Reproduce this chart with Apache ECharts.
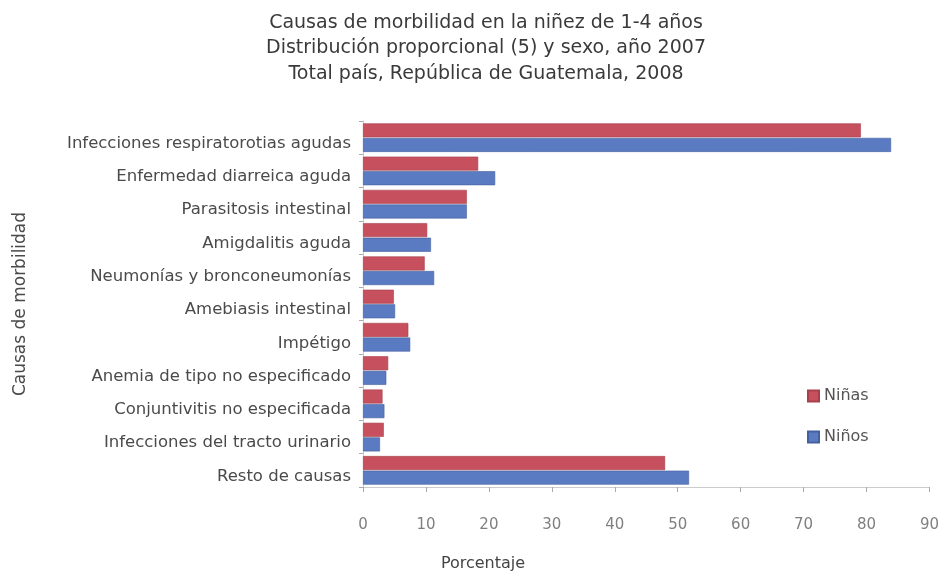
<!DOCTYPE html>
<html>
<head>
<meta charset="utf-8">
<script src="https://cdn.jsdelivr.net/npm/echarts@6/dist/echarts.min.js"></script>
<style>html,body{margin:0;padding:0;background:#fff}#c{width:942px;height:571px}</style>
</head>
<body>
<div id="c"></div>
<script>
const categories = [
  "Infecciones respiratorotias agudas",
  "Enfermedad diarreica aguda",
  "Parasitosis intestinal",
  "Amigdalitis aguda",
  "Neumonías y bronconeumonías",
  "Amebiasis intestinal",
  "Impétigo",
  "Anemia de tipo no especificado",
  "Conjuntivitis no especificada",
  "Infecciones del tracto urinario",
  "Resto de causas"
];
const ninas = [79.1, 18.3, 16.5, 10.2, 9.8, 4.9, 7.2, 4.0, 3.1, 3.3, 48.0];
const ninos = [83.9, 21.0, 16.5, 10.8, 11.3, 5.1, 7.5, 3.7, 3.4, 2.7, 51.8];
const xTicks = [0, 10, 20, 30, 40, 50, 60, 70, 80, 90];
const titleLines = [
  "Causas de morbilidad en la niñez de 1-4 años",
  "Distribución proporcional (5) y sexo, año 2007",
  "Total país, República de Guatemala, 2008"
];

const FONT = "DejaVu Sans, sans-serif";
const chart = echarts.init(document.getElementById('c'));
chart.setOption({
  animation: false,
  textStyle: { fontFamily: FONT },
  title: [
    {
      text: titleLines.join("\n"),
      left: 481, top: 5, textAlign: 'center',
      textStyle: { fontFamily: FONT, fontSize: 19, fontWeight: 'normal', color: '#3a3a3a', lineHeight: 25.5 }
    },
    {
      text: "Porcentaje",
      left: 478, top: 551, textAlign: 'center',
      textStyle: { fontFamily: FONT, fontSize: 16, fontWeight: 'normal', color: '#444' }
    }
  ],
  legend: {
    orient: 'vertical',
    left: 802, top: 383,
    itemWidth: 11, itemHeight: 11, itemGap: 25,
    icon: 'rect',
    textStyle: { fontFamily: FONT, fontSize: 16, color: '#555' },
    data: ['Niñas', 'Niños']
  },
  grid: { left: 363, right: 12, top: 121, bottom: 84, containLabel: false },
  xAxis: {
    type: 'value', min: 0, max: 90, interval: 10,
    axisLine: { show: true, lineStyle: { color: '#ccc' } },
    axisTick: { show: true, length: 5, lineStyle: { color: '#aaa' } },
    splitLine: { show: false },
    axisLabel: {
      margin: 31, fontFamily: FONT, fontSize: 15, color: '#808080',
      formatter: v => xTicks.includes(v) ? String(v) : ''
    }
  },
  yAxis: {
    type: 'category', inverse: true, data: categories,
    name: 'Causas de morbilidad', nameLocation: 'middle', nameRotate: 90, nameGap: 334,
    nameTextStyle: { fontFamily: FONT, fontSize: 17, color: '#4a4a4a' },
    axisLine: { show: true, lineStyle: { color: '#ccc' } },
    axisTick: { show: true, length: 4, lineStyle: { color: '#aaa' } },
    axisLabel: {
      margin: 12, fontFamily: FONT, fontSize: 16.5, color: '#4a4a4a',
      formatter: v => '{a|' + v + '}',
      rich: { a: { fontFamily: FONT, fontSize: 16.5, color: '#4a4a4a', padding: [12, 0, 0, 0] } }
    }
  },
  series: [
    {
      name: 'Niñas', type: 'bar', data: ninas,
      barGap: '4%', barCategoryGap: '14%',
      itemStyle: { color: '#c6505d', borderColor: '#a8404c', borderWidth: 0.6 }
    },
    {
      name: 'Niños', type: 'bar', data: ninos,
      itemStyle: { color: '#5a7bc2', borderColor: '#44609e', borderWidth: 0.6 }
    }
  ]
});
</script>
</body>
</html>
